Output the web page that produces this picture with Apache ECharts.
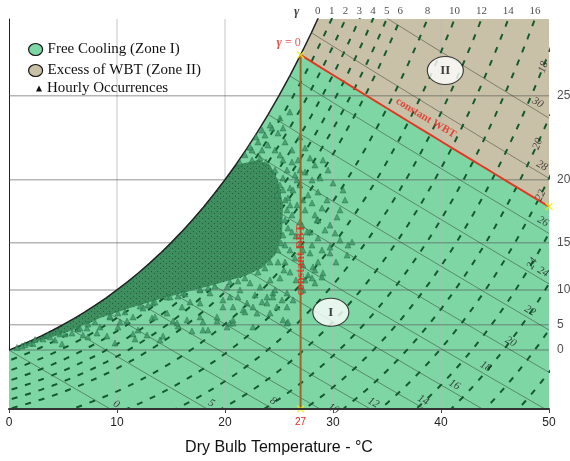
<!DOCTYPE html>
<html><head><meta charset="utf-8">
<script src="https://cdn.jsdelivr.net/npm/echarts@6/dist/echarts.min.js"></script>
<style>html,body{margin:0;padding:0;background:#fff}#c{width:570px;height:461px}</style>
</head><body><div id="c"></div>
<script>
// ---- data ----
const satTemps = [-8,-7,-6,-5,-4,-3,-2,-1,0,1,2,3,4,5,6,7,8,9,10,11,12,13,14,15,16,17,18,19,20,21,22,23,24,25,26,27,28,29,30,31,32,33,34,35];
const satW = [2.063,2.229,2.407,2.598,2.804,3.021,3.255,3.505,3.775,4.060,4.364,4.689,5.034,5.403,5.796,6.213,6.657,7.129,7.632,8.165,8.732,9.334,9.973,10.650,11.369,12.131,12.938,13.793,14.699,15.656,16.671,17.744,18.881,20.083,21.354,22.697,24.118,25.619,27.210,28.876,30.641,32.514,34.487,36.579];
const wbtLines = [0,5,8,10,12,14,16,18,20,22,24,26,28,30];
const wbtLabelT = [9.3,18.1,23.8,29.4,33.1,37.7,40.6,43.5,45.8,47.6,48.8,48.8,48.7,48.3];
const depressions = [1,2,3,4,5,6,8,10,12,14,16,18,20,22,24,26,28,30,32];
const topLabelDep = [0,1,2,3,4,5,6,8,10,12,14,16];
const sideLabelDep = [18,20,22,24];
const sideLabelT = [49.7,49.2,49.5,48.75];
const sideLabelRot = [70,67,64,61];
const dewLines = [0,5,10,15,20,25];
const gridTemps = [10,20,30,40];
const designWBT = 27;
const designDBT = 27;
const zoneMarks = [{name:'I', value:[29.8,6.2]}, {name:'II', value:[40.4,21.7]}];
const coreTopT = 21;
const coreBoundary = [[21.85,15.77],[23.06,15.96],[24.17,15.64],[24.91,14.68],[25.37,13.08],[25.28,11.15],[24.63,9.87],[23.43,9.04],[21.85,8.53],[19.54,8.08],[16.76,7.56],[13.98,7.05],[11.2,6.47],[8.43,5.83],[5.65,5.0],[2.87,4.36],[0.28,3.78]];
const occurrences = [
[0.74,3.95],[1.48,4.12],[2.22,4.2],[2.41,4.45],[3.15,4.49],[3.61,4.74],[4.26,4.42],[4.72,4.81],[4.91,4.17],[5.83,4.87],[6.39,5.13],[6.85,4.74],[7.22,5.19],[7.31,4.62],[8.15,4.87],[8.43,5.26],[9.07,4.68],[9.81,4.23],[10.09,5.26],[10.93,5.64],[11.48,4.81],[11.67,4.49],[11.94,5.06],[12.78,4.74],[13.24,5.83],[13.98,4.42],[14.26,4.68],[15.19,5.64],[15.65,5.32],[16.48,5.71],[16.94,5.0],[17.69,5.9],[17.96,5.06],[18.43,5.06],[19.26,5.64],[20.19,5.26],[20.46,5.51],[20.74,5.51],[21.67,6.35],[22.59,5.26],[24.17,6.15],[25.74,5.51],
[9.35,5.9],[10.28,5.58],[11.48,5.9],[12.41,6.47],[13.33,6.79],[13.52,5.9],[14.63,6.15],[15.56,5.51],[16.02,6.54],[16.76,6.86],[17.69,6.79],[17.96,5.58],[18.61,7.44],[19.26,5.9],[19.81,6.54],[20.46,7.18],[20.74,5.71],[21.39,7.63],[22.04,6.79],[22.96,6.15],[23.89,7.18],[24.44,7.44],[23.24,7.82],[24.17,8.27],[22.31,8.08],[20.19,7.82],[17.69,7.63],[16.11,7.44],[14.63,7.18],
[24.44,7.18],[25.74,7.44],[23.89,6.79],[25.74,6.54],[25.37,5.71],[25.83,5.58],[27.41,8.27],[28.06,8.4],[28.33,8.08],[28.98,8.46],[27.22,7.63],
[26.94,17.44],[24.91,17.69],[27.87,16.09],[29.07,15.96],[30.0,14.49],[30.93,14.04],[29.44,13.4],[30.65,12.76],[30.37,12.31],[28.52,12.12],[29.72,10.38],[27.87,10.0],[28.15,9.1],[29.72,10.0],[29.07,8.72],[26.94,7.82],[26.3,6.99],[24.81,6.54],[22.59,6.54],[20.74,6.54],[19.81,6.99],
[23.98,16.92],[25.56,17.12],[26.2,16.6],[27.41,16.73],[25.09,16.28],[26.76,15.96],[28.33,15.64],[23.43,16.6],
[25.74,15.32],[26.48,15.0],[27.41,15.19],[26.94,14.36],[28.06,14.68],[28.8,14.81],[26.02,14.17],[28.61,13.91],[29.54,15.32],[27.69,13.72],
[25.83,13.53],[26.67,13.08],[27.41,12.76],[28.06,13.21],[28.98,12.88],[26.2,12.44],[26.94,11.99],[28.33,12.44],[29.72,11.79],[31.11,13.4],
[25.83,11.6],[26.57,11.09],[27.59,11.35],[28.61,10.96],[29.26,11.47],[30.65,10.83],[31.39,10.51],[26.94,10.51],[28.06,10.51],[26.02,10.19],[30.19,11.28],
[25.56,9.42],[26.48,9.68],[27.22,9.23],[28.61,9.42],[30.28,9.42],[26.02,8.78],[27.69,8.59],[25.09,8.4],[26.57,8.27],
[21.2,7.18],[22.78,7.31],[23.43,6.86],[21.85,6.22],[24.63,7.63],[25.28,6.99],
[22.5,16.6],[23.06,17.12],[23.7,17.56],[24.35,18.01],[25.37,18.01],
[31.76,10.71],[31.3,9.87],
[1.94,4.23],[3.8,4.62],[5.19,4.81],[6.57,5.19],[7.96,5.58],[9.35,5.96],[10.74,6.22],[12.13,6.6],[13.52,6.86],[14.91,7.18],[16.3,7.37],[17.69,7.69],[19.07,7.88],[20.46,8.14],[21.85,8.4],[23.06,8.78],[24.17,9.42],[24.91,10.19],[25.37,11.15],[25.56,12.12],[25.56,13.4],[25.09,14.36],[24.63,15.32],[23.8,15.83],[22.5,15.96],[21.39,15.77],
[1.2,4.04],[4.54,4.94],[7.31,5.45],[10.09,6.15],[12.87,6.67],[15.65,7.24],[18.43,7.76],[21.2,8.21],[23.7,9.04],[25.19,10.64],[25.74,12.76],[25.37,14.81],[23.24,16.09],
[21.85,16.3],[22.31,16.8],[22.87,17.44],[23.43,17.88],[24.17,18.2],[25.09,18.65],[26.0,19.04],
[24.81,13.72],[25.37,14.04],[26.02,13.08],[25.56,10.51],[26.2,11.35],[24.91,9.42],[25.46,8.91],[26.3,14.04],[26.67,14.68],[25.37,15.96],[26.2,15.83],[24.63,16.6],[26.94,15.32],[27.22,13.4],[27.13,11.79],[27.22,10.19],[27.87,11.35],[28.61,12.12],[28.98,10.19],[28.33,8.91]
];

// ---- psychrometric construction ----
function ws(t){ return satW[satTemps.indexOf(t)]; }
function wOnWbt(t, twb){ const s = ws(twb); return ((2501-2.326*twb)*s - 1006*(t-twb))/(2501+1.86*t-4.186*twb); }
function satPts(t0,t1){ const p=[]; for(const t of satTemps){ if(t>=t0 && t<=t1) p.push([t, ws(t)]); } return p; }
function wbtPts(twb){ const p=[]; for(let t=twb;t<=50;t++) p.push([t, wOnWbt(t,twb)]); return p; }
function depPts(d){ const p=[]; for(const twb of satTemps){ const t=twb+d; if(t>=-1 && t<=52) p.push([t, wOnWbt(t,twb)]); } return p; }
function crossW(pts, w){ for(let i=0;i<pts.length-1;i++){ const a=pts[i], b=pts[i+1]; if((a[1]-w)*(b[1]-w)<=0 && a[1]!==b[1]){ const f=(w-a[1])/(b[1]-a[1]); return a[0]+f*(b[0]-a[0]); } } return null; }
function atT(pts, t){ for(let i=0;i<pts.length-1;i++){ const a=pts[i], b=pts[i+1]; if(t>=a[0] && t<=b[0]){ const f=(t-a[0])/(b[0]-a[0]); return a[1]+f*(b[1]-a[1]); } } return null; }

const satAll = satPts(0, 30);
const tSat25 = crossW(satAll, 25);
const wbt27 = wbtPts(designWBT);
const w27end = wbt27[wbt27.length-1][1];
const ws27 = ws(designDBT);

const zone1 = [[0,0]].concat(satPts(0,designWBT), wbt27.slice(1), [[50,0]]);
const zone2 = satPts(designWBT, 28).concat([[tSat25,25],[50,25]], wbt27.slice().reverse());
const core = satPts(0, coreTopT).concat(coreBoundary);

const RED = '#e8281e';
const SERIF = 'Liberation Serif';
const SANS = 'Liberation Sans';

// speckled texture for the dense cloud of hourly points
const tex = document.createElement('canvas'); tex.width = 6; tex.height = 5;
(function(){ const c = tex.getContext('2d'); c.fillStyle = '#3d8d5f'; c.fillRect(0,0,6,5);
  c.fillStyle = '#235f3d'; c.fillRect(1,1,1,1); c.fillRect(4,3,1,1);
  c.fillStyle = '#4a9a6b'; c.fillRect(3,0,1,1); })();

function poly(name, pts, fill, z){
  return {type:'custom', name, z, silent:true, clip:true, data:[0], itemStyle:{color: typeof fill === 'string' ? fill : '#3d8d5f'},
    renderItem:(params, api)=>({type:'polygon', shape:{points: pts.map(p=>api.coord(p))}, style:{fill, stroke:null}})};
}
function line(data, style, z){
  return {type:'line', data, symbol:'none', silent:true, z, lineStyle:style, clip:true, animation:false};
}
function labels(items, z){
  return {type:'scatter', data:items, symbolSize:0.1, itemStyle:{color:'rgba(0,0,0,0)'}, silent:true, z, clip:false};
}

const series = [];
series.push(poly('Free Cooling (Zone I)', zone1, '#7fd6a5', 1));
series.push(poly('Excess of WBT (Zone II)', zone2, '#c9c1a7', 1));
gridTemps.forEach(t => series.push(line([[t,0],[t,25]], {color:'rgba(185,185,185,0.55)', width:1.5}, 2)));
dewLines.forEach(d => series.push(line([[0,ws(d)],[50,ws(d)]], {color:'rgba(80,80,80,0.42)', width:1.5}, 2)));
wbtLines.forEach(t => series.push(line(wbtPts(t), {color:'rgba(50,60,50,0.5)', width:1}, 2)));
depressions.forEach(d => series.push(line(depPts(d), {color:'#145a2e', width:2, type:[6,8]}, 2)));
series.push(line(satAll, {color:'#222', width:1.5}, 3));
series.push(poly('Hourly Occurrences', core, {image: tex, repeat:'repeat'}, 3));
series.push({type:'scatter', name:'Hourly Occurrences', data:occurrences, symbol:'triangle', symbolSize:6, z:4, silent:true,
  itemStyle:{color:'#3f9565', borderColor:'#1c6740', borderWidth:0.5}});
series.push(line([[designDBT, ws27],[designDBT,0]], {color:'#a0652d', width:2}, 5));
series.push(line(wbt27, {color:'#dd3a25', width:2}, 5));
series.push({type:'scatter', data:[[designDBT, ws27],[designDBT,0],[50,w27end]], symbol:'path://M0,0L10,10M10,0L0,10', symbolSize:7, z:6, silent:true, clip:false,
  itemStyle:{color:'none', borderColor:'#f2ee10', borderWidth:1.5}});
series.push({type:'scatter', data:zoneMarks.map(m=>({value:m.value, label:{formatter:m.name}})), symbol:'path://M0,14A18,14 0 1,1 36,14A18,14 0 1,1 0,14Z', symbolSize:[36,28], z:6, silent:true,
  itemStyle:{color:'#fff', borderColor:'#111', borderWidth:1},
  label:{show:true, position:'inside', fontFamily:SERIF, fontWeight:'bold', fontSize:13, color:'#111'}});

const lab = [];
wbtLines.forEach((t,i)=>{ const T=wbtLabelT[i]; lab.push({value:[T, wOnWbt(T,t)], label:{show:true, formatter:String(t), position:'inside', offset:[4,-7], rotate:-30, fontFamily:SERIF, fontStyle:'italic', fontSize:11, color:'#222'}}); });
sideLabelDep.forEach((d,i)=>{ const T=sideLabelT[i]; lab.push({value:[T, atT(depPts(d), T)], label:{show:true, formatter:String(d), position:'inside', offset:[-7,0], rotate:sideLabelRot[i], fontFamily:SERIF, fontStyle:'italic', fontSize:11, color:'#222'}}); });
topLabelDep.forEach(d=>{ const T = d===0 ? tSat25 : crossW(depPts(d),25); lab.push({value:[T,25], label:{show:true, formatter:String(d), position:'top', distance:2, fontFamily:SERIF, fontSize:11, color:'#222'}});
  if(d===0) lab.push({value:[T,25], label:{show:true, formatter:'γ', position:'top', distance:1, offset:[-21,0], fontFamily:SERIF, fontStyle:'italic', fontWeight:'bold', fontSize:13, color:'#111'}}); });
dewLines.forEach(d=> lab.push({value:[50, ws(d)], label:{show:true, formatter:String(d), position:'right', distance:8, fontFamily:SANS, fontSize:12, color:'#222'}}));
lab.push({value:[designDBT, ws27], label:{show:true, position:'inside', offset:[-12,-12], formatter:'{g|γ}{t| = 0}', rich:{g:{fontFamily:SERIF, fontStyle:'italic', fontWeight:'bold', fontSize:13, color:RED}, t:{fontFamily:SERIF, fontSize:12, color:RED}}}});
lab.push({value:[38.1, atT(wbt27,38.1)], label:{show:true, position:'inside', offset:[-1,-12], rotate:-31, formatter:'constant WBT', fontFamily:SERIF, fontWeight:'bold', fontSize:11, color:RED}});
lab.push({value:[designDBT, 10.2], label:{show:true, position:'inside', offset:[-10,0], rotate:90, formatter:'constant DBT', fontFamily:SERIF, fontWeight:'bold', fontSize:12, color:RED}});
series.push(labels(lab, 7));

const zoneIcon = 'path://M0,6A7,6 0 1,1 14,6A7,6 0 1,1 0,6Z';
const option = {
  animation:false,
  backgroundColor:'#fff',
  grid:{left:9, right:21, top:19, bottom:52},
  legend:[
    {orient:'vertical', left:28, top:42, padding:0, itemWidth:14, itemHeight:12, itemGap:6, selectedMode:false,
     textStyle:{fontFamily:SERIF, fontSize:15, color:'#111'},
     data:[{name:'Free Cooling (Zone I)', icon:zoneIcon, itemStyle:{color:'#7fd6a5', borderColor:'#111', borderWidth:1.2}},
           {name:'Excess of WBT (Zone II)', icon:zoneIcon, itemStyle:{color:'#c9c1a7', borderColor:'#111', borderWidth:1.2}}]},
    {orient:'vertical', left:36, top:81, padding:0, itemWidth:6, itemHeight:6, selectedMode:false,
     textStyle:{fontFamily:SERIF, fontSize:15, color:'#111'},
     data:[{name:'Hourly Occurrences', icon:'triangle', itemStyle:{color:'#111', borderWidth:0}}]}
  ],
  xAxis:[
    {type:'value', min:0, max:50, interval:10, position:'bottom', z:10,
     axisLine:{show:true, onZero:false, lineStyle:{color:'#333', width:2}},
     axisTick:{show:true, length:4, lineStyle:{color:'#444'}},
     axisLabel:{color:'#222', fontSize:12, fontFamily:SANS, margin:8, customValues:[0,10,20,27,30,40,50],
       formatter:v=> v===27 ? '{r|27}' : String(v), rich:{r:{color:RED, fontSize:10, fontFamily:SANS}}},
     splitLine:{show:false},
     name:'Dry Bulb Temperature - °C', nameLocation:'middle', nameGap:31,
     nameTextStyle:{fontSize:16, color:'#111', fontFamily:SANS}},
    {type:'value', min:0, max:50, position:'top', axisLine:{show:true, lineStyle:{color:'#222', width:1}},
     axisTick:{show:false}, axisLabel:{show:false}, splitLine:{show:false}}
  ],
  yAxis:[{type:'value', min:0, max:25, position:'left', axisLine:{show:true, onZero:false, lineStyle:{color:'#222', width:1}},
    axisTick:{show:false}, axisLabel:{show:false}, splitLine:{show:false}}],
  series
};
const chart = echarts.init(document.getElementById('c'), null, {renderer:'canvas'});
chart.setOption(option);
</script></body></html>
